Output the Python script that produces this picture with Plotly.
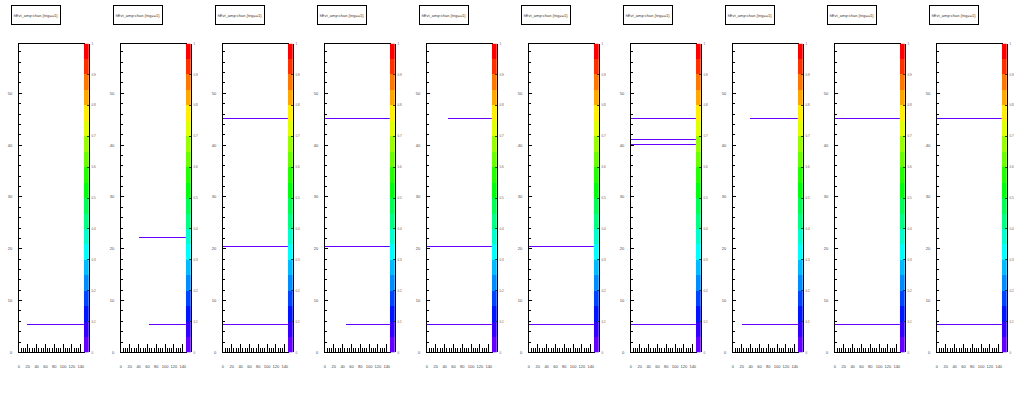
import colorsys
import plotly.graph_objects as go

W, H = 1022, 399
NPAN = 10

# ---------------- data ----------------
panel_titles = ["hEvt_amp:chan {trig==1}"] * NPAN
x_range = [0, 147]
y_range = [0, 59.6]
x_ticks = [0, 20, 40, 60, 80, 100, 120, 140]
y_ticks = [0, 10, 20, 30, 40, 50]
pal_ticks = [0, 2, 4, 6, 8, 10, 12, 14, 16, 18, 20]
pal_labels = ["0", "0.1", "0.2", "0.3", "0.4", "0.5", "0.6", "0.7", "0.8", "0.9", "1"]

# horizontal segments: panel index, x start, x end, y value
seg_panel = [0, 1, 1, 2, 2, 2, 3, 3, 3, 4, 4, 4, 5, 5, 6, 6, 6, 6, 7, 7, 8, 8, 9, 9]
seg_x0 = [18.1, 40.7, 63.3, 0, 0, 0, 0, 0, 47.0, 47.5, 0, 0, 0, 0,
          0, 0, 0, 0, 38.4, 20.4, 0, 0, 0, 0]
seg_x1 = [147] * len(seg_panel)
seg_y = [5.45, 22.2, 5.45, 45.2, 20.4, 5.45, 45.2, 20.4, 5.45, 45.2, 20.4, 5.45,
         20.4, 5.45, 45.2, 41.1, 40.2, 5.45, 45.2, 5.45, 45.2, 5.45, 45.2, 5.45]

# ---------------- ROOT "pretty" palette, 20 contour levels ----------------
pal = []
for i in range(49):
    hue = 280 - (i + 1) * (280 / 50)
    r, g, b = colorsys.hls_to_rgb(hue / 360.0, 0.5, 1.0)
    pal.append("rgb(%d,%d,%d)" % (round(r * 255), round(g * 255), round(b * 255)))
pal.append("rgb(255,0,0)")
NDIV = 20
level_cols = [pal[int((k + 0.99) * 50 / NDIV)] for k in range(NDIV)]
cscale = []
for k, c in enumerate(level_cols):
    cscale.append([k / NDIV, c])
    cscale.append([(k + 1) / NDIV, c])
line_col = level_cols[0]

FONT = "Liberation Sans"
fig = go.Figure()
layout = dict(width=W, height=H, margin=dict(l=0, r=0, t=0, b=0),
              paper_bgcolor="white", plot_bgcolor="white", showlegend=False,
              font=dict(family=FONT, size=4, color="black"))
annotations = []

PAD = W / NPAN
ydom = [(H - 354) / H, (H - 42) / H]
for p in range(NPAN):
    off = p * PAD
    mi = 2 * p + 1
    pi = 2 * p + 2
    mx = "x" if mi == 1 else "x%d" % mi
    my = "y" if mi == 1 else "y%d" % mi
    px_, py_ = "x%d" % pi, "y%d" % pi
    xk = "xaxis" if mi == 1 else "xaxis%d" % mi
    yk = "yaxis" if mi == 1 else "yaxis%d" % mi
    layout[xk] = dict(domain=[(18 + off) / W, (83 + off) / W], range=x_range, anchor=my,
                      showgrid=False, zeroline=False, showline=True, linecolor="black",
                      linewidth=1, mirror=True, ticks="inside", ticklen=8, tickcolor="black",
                      tickvals=x_ticks, ticktext=[str(v) for v in x_ticks], tickangle=0,
                      tickfont=dict(size=4, color="#444"), ticklabelstandoff=10,
                      minor=dict(dtick=5, ticks="inside", ticklen=4, tickcolor="black", showgrid=False))
    layout[yk] = dict(domain=ydom, range=y_range, anchor=mx,
                      showgrid=False, zeroline=False, showline=True, linecolor="black",
                      linewidth=1, mirror=True, ticks="inside", ticklen=3, tickcolor="black",
                      tickvals=y_ticks, ticktext=[str(v) for v in y_ticks], tickangle=0,
                      tickfont=dict(size=4, color="#444"), ticklabelstandoff=5,
                      minor=dict(dtick=2, ticks="inside", ticklen=2, tickcolor="black", showgrid=False))
    layout["xaxis%d" % pi] = dict(domain=[(83 + off) / W, (88 + off) / W], range=[-0.5, 0.5],
                                  anchor=py_, visible=False)
    layout["yaxis%d" % pi] = dict(domain=ydom, range=[0, NDIV], anchor=px_, side="right",
                                  showgrid=False, zeroline=False, showline=True, linecolor="black",
                                  linewidth=1, ticks="inside", ticklen=2, tickcolor="#333",
                                  tickvals=pal_ticks, ticktext=pal_labels, tickangle=0,
                                  tickfont=dict(size=3, color="#555"), ticklabelstandoff=1)
    # palette
    fig.add_trace(go.Heatmap(z=[[k] for k in range(NDIV)], x=[0], y=[k + 0.5 for k in range(NDIV)],
                             colorscale=cscale, zmin=-0.5, zmax=NDIV - 0.5, showscale=False,
                             hoverinfo="skip", xaxis=px_, yaxis=py_))
    # segments
    for s in range(len(seg_panel)):
        if seg_panel[s] != p:
            continue
        fig.add_trace(go.Scatter(x=[seg_x0[s], seg_x1[s]], y=[seg_y[s], seg_y[s]], mode="lines",
                                 line=dict(color=line_col, width=1), xaxis=mx, yaxis=my,
                                 cliponaxis=True))
    annotations.append(dict(text=panel_titles[p], x=(off + 35) / W, y=1 - 13.5 / H,
                            xref="paper", yref="paper", xanchor="center", yanchor="middle",
                            showarrow=False, width=48, height=18, borderpad=0,
                            bordercolor="black", borderwidth=1, bgcolor="white",
                            font=dict(size=4, color="#333")))

layout["annotations"] = annotations
fig.update_layout(**layout)
fig.write_html("out.html", config={"displayModeBar": False},
               post_script="document.body.style.margin='0';document.body.style.overflow='hidden';"
                           "document.querySelectorAll('.js-line').forEach(function(e){e.style.shapeRendering='crispEdges';});")
